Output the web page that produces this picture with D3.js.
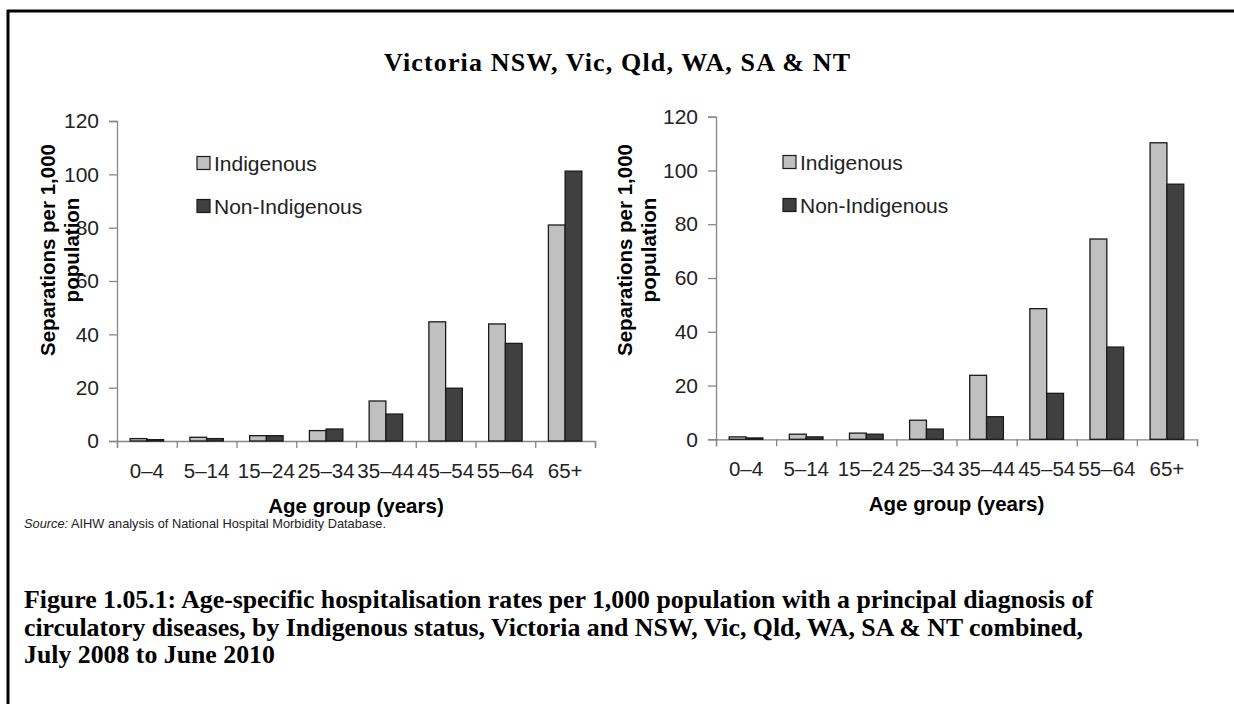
<!DOCTYPE html>
<html>
<head>
<meta charset="utf-8">
<script src="https://cdn.jsdelivr.net/npm/d3@7"></script>
<style>
  body { margin: 0; background: #fff; }
  svg { display: block; }
</style>
</head>
<body>
<svg id="fig" width="1234" height="704"></svg>
<script>
// age groups and rates (separations per 1,000)
const ageGroups = ['0–4', '5–14', '15–24', '25–34', '35–44', '45–54', '55–64', '65+'];
const vicIndigenous = [0.9, 1.4, 2.0, 3.9, 15.0, 44.7, 43.9, 81.0];
const vicNonIndigenous = [0.5, 0.9, 2.0, 4.5, 10.1, 19.8, 36.6, 101.2];
const allIndigenous = [0.9, 1.9, 2.3, 7.1, 23.8, 48.6, 74.5, 110.3];
const allNonIndigenous = [0.5, 0.9, 1.9, 3.8, 8.4, 17.1, 34.3, 94.9];
const seriesNames = ['Indigenous', 'Non-Indigenous'];
const yTicks = [0, 20, 40, 60, 80, 100, 120];

const fillColors = ['#c0c0c0', '#404040'],
    barStroke = '#1a1a1a',
    axisColor = '#868686',
    sans = 'Arial, "Liberation Sans", sans-serif',
    serif = '"Book Antiqua", "Palatino Linotype", "Liberation Serif", serif';

const svg = d3.select('#fig');
svg.append('rect').attr('width', 1234).attr('height', 704).attr('fill', '#fff');

// frame (only top and left edges are in view)
svg.append('line').attr('x1', 7).attr('y1', 11).attr('x2', 1234).attr('y2', 11)
    .attr('stroke', '#000').attr('stroke-width', 3);
svg.append('line').attr('x1', 8).attr('y1', 10).attr('x2', 8).attr('y2', 704)
    .attr('stroke', '#000').attr('stroke-width', 3);

svg.append('text')
    .attr('x', 617).attr('y', 71)
    .attr('text-anchor', 'middle')
    .attr('textLength', 466).attr('lengthAdjust', 'spacing')
    .style('font-family', serif).style('font-weight', 'bold').style('font-size', '26px')
    .text('Victoria NSW, Vic, Qld, WA, SA & NT');

function drawChart(opts) {
    const indig = opts.indig, nonIndig = opts.nonIndig;
    const x = d3.scaleBand().domain(ageGroups).range([opts.x0, opts.x1])
        .paddingInner(0.44).paddingOuter(0.22);
    const xs = d3.scaleBand().domain(seriesNames).range([0, x.bandwidth()]);
    const xEdge = d3.scaleLinear().domain([0, ageGroups.length]).range([opts.x0, opts.x1]);
    const y = d3.scaleLinear().domain([0, 120]).range([opts.y0, opts.yTop]);
    const g = svg.append('g');

    // y axis
    g.append('g')
        .attr('transform', 'translate(' + opts.x0 + ',0)')
        .call(d3.axisLeft(y).tickValues(yTicks).tickSize(8).tickPadding(10).tickFormat(d3.format('d')))
        .call(function (a) {
            a.select('.domain').attr('stroke', axisColor).attr('stroke-width', 1.3);
            a.selectAll('.tick line').attr('stroke', axisColor).attr('stroke-width', 1.3);
            a.selectAll('.tick text').attr('fill', '#222')
                .style('font-family', sans).style('font-size', '21px');
        });

    // x axis: ticks sit on the category edges
    g.append('g')
        .attr('transform', 'translate(0,' + opts.y0 + ')')
        .call(d3.axisBottom(xEdge).tickValues(d3.range(ageGroups.length + 1)).tickSize(7).tickFormat(''))
        .call(function (a) {
            a.select('.domain').attr('stroke', axisColor).attr('stroke-width', 1.3);
            a.selectAll('.tick line').attr('stroke', axisColor).attr('stroke-width', 1.3);
        });
    g.append('g').selectAll('text')
        .data(ageGroups).enter().append('text')
        .attr('x', function (d) { return x(d) + x.bandwidth() / 2; })
        .attr('y', opts.y0 + 37)
        .attr('text-anchor', 'middle')
        .attr('fill', '#222')
        .style('font-family', sans).style('font-size', '20.5px')
        .text(function (d) { return d; });

    // bars
    const rows = ageGroups.map(function (a, i) {
        return [{ key: seriesNames[0], age: a, v: indig[i] }, { key: seriesNames[1], age: a, v: nonIndig[i] }];
    });
    g.append('g').selectAll('g')
        .data(rows).enter().append('g')
        .attr('transform', function (d) { return 'translate(' + x(d[0].age) + ',0)'; })
        .selectAll('rect')
        .data(function (d) { return d; }).enter().append('rect')
        .attr('x', function (d) { return xs(d.key); })
        .attr('y', function (d) { return y(d.v); })
        .attr('width', xs.bandwidth())
        .attr('height', function (d) { return y(0) - y(d.v); })
        .attr('fill', function (d, i) { return fillColors[i]; })
        .attr('stroke', barStroke).attr('stroke-width', 1.3);

    // axis titles
    g.append('text')
        .attr('x', (opts.x0 + opts.x1) / 2).attr('y', opts.y0 + 72)
        .attr('text-anchor', 'middle')
        .style('font-family', sans).style('font-weight', 'bold').style('font-size', '20.5px')
        .text('Age group (years)');
    const yt = g.append('text')
        .attr('transform', 'translate(' + opts.titleX + ',' + opts.titleY + ') rotate(-90)')
        .attr('text-anchor', 'middle')
        .style('font-family', sans).style('font-weight', 'bold').style('font-size', '20.5px');
    yt.append('tspan').attr('x', 0).attr('y', 0).text('Separations per 1,000');
    yt.append('tspan').attr('x', 0).attr('y', 24).text('population');

    // legend
    const lg = g.append('g').selectAll('g')
        .data(seriesNames).enter().append('g')
        .attr('transform', function (d, i) { return 'translate(' + opts.legX + ',' + (opts.legY + i * 43) + ')'; });
    lg.append('rect')
        .attr('x', 0).attr('y', -6.5).attr('width', 13).attr('height', 13)
        .attr('fill', function (d, i) { return fillColors[i]; })
        .attr('stroke', barStroke).attr('stroke-width', 1.2);
    lg.append('text')
        .attr('x', 17).attr('y', 7.5)
        .attr('fill', '#222')
        .style('font-family', sans).style('font-size', '21px')
        .text(function (d) { return d; });
}

drawChart({ indig: vicIndigenous, nonIndig: vicNonIndigenous,
    x0: 117, x1: 595, y0: 441, yTop: 121, titleX: 55, titleY: 250, legX: 197, legY: 163 });
drawChart({ indig: allIndigenous, nonIndig: allNonIndigenous,
    x0: 716, x1: 1197, y0: 439.3, yTop: 116.7, titleX: 632, titleY: 250, legX: 783, legY: 162 });

svg.append('text')
    .attr('x', 24).attr('y', 528)
    .attr('fill', '#222')
    .style('font-family', sans).style('font-size', '12.8px')
    .call(function (t) {
        t.append('tspan').style('font-style', 'italic').text('Source:');
        t.append('tspan').text(' AIHW analysis of National Hospital Morbidity Database.');
    });

const captionLines = [
    'Figure 1.05.1: Age-specific hospitalisation rates per 1,000 population with a principal diagnosis of',
    'circulatory diseases, by Indigenous status, Victoria and NSW, Vic, Qld, WA, SA & NT combined,',
    'July 2008 to June 2010'
];
svg.append('g').selectAll('text')
    .data(captionLines).enter().append('text')
    .attr('x', 24)
    .attr('y', function (d, i) { return 608 + i * 27.5; })
    .style('font-family', serif).style('font-weight', 'bold').style('font-size', '25.8px')
    .text(function (d) { return d; });
</script>
</body>
</html>
